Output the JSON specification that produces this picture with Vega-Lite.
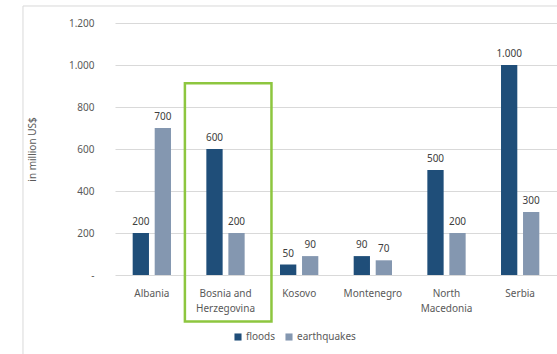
{
  "$schema": "https://vega.github.io/schema/vega-lite/v6.json",
  "width": 442,
  "height": 252,
  "autosize": "none",
  "padding": {"left": 115, "top": 23, "right": 0, "bottom": 79},
  "background": "white",
  "config": {
    "locale": {"number": {"decimal": ",", "thousands": ".", "grouping": [3], "currency": ["", " $"]}},
    "view": {"stroke": null},
    "font": "Noto Sans",
    "axis": {"labelFontSize": 10, "labelColor": "#595959", "titleColor": "#595959", "titleFontWeight": "normal", "titleFontSize": 10}
  },
  "data": {
    "values": [
      {"country": "Albania", "hazard": "floods", "value": 200},
      {"country": "Albania", "hazard": "earthquakes", "value": 700},
      {"country": "Bosnia and Herzegovina", "hazard": "floods", "value": 600},
      {"country": "Bosnia and Herzegovina", "hazard": "earthquakes", "value": 200},
      {"country": "Kosovo", "hazard": "floods", "value": 50},
      {"country": "Kosovo", "hazard": "earthquakes", "value": 90},
      {"country": "Montenegro", "hazard": "floods", "value": 90},
      {"country": "Montenegro", "hazard": "earthquakes", "value": 70},
      {"country": "North Macedonia", "hazard": "floods", "value": 500},
      {"country": "North Macedonia", "hazard": "earthquakes", "value": 200},
      {"country": "Serbia", "hazard": "floods", "value": 1000},
      {"country": "Serbia", "hazard": "earthquakes", "value": 300}
    ]
  },
  "layer": [
    {
      "mark": {"type": "bar"},
      "encoding": {
        "x": {
          "field": "country", "type": "nominal", "sort": null,
          "scale": {"domain": ["Albania", "Bosnia and Herzegovina", "Kosovo", "Montenegro", "North Macedonia", "Serbia"], "paddingInner": 0.48, "paddingOuter": 0.24},
          "axis": {
            "title": null, "tickSize": 0, "domain": false, "labelPadding": 13, "labelAngle": 0,
            "labelLineHeight": 15, "bandPosition": 0.5,
            "labelExpr": "datum.label == 'Bosnia and Herzegovina' ? ['Bosnia and', 'Herzegovina'] : datum.label == 'North Macedonia' ? ['North', 'Macedonia'] : datum.label"
          }
        },
        "xOffset": {"field": "hazard", "type": "nominal", "sort": ["floods", "earthquakes"], "scale": {"paddingInner": 0.26, "paddingOuter": 0}},
        "y": {
          "field": "value", "type": "quantitative",
          "scale": {"domain": [0, 1200], "nice": false},
          "axis": {
            "title": "in million US$", "values": [0, 200, 400, 600, 800, 1000, 1200],
            "tickSize": 0, "domain": false, "labelPadding": 21, "titlePadding": 31,
            "format": ",d", "labelExpr": "datum.value === 0 ? '-' : datum.label",
            "gridColor": "#d9d9d9"
          }
        },
        "color": {
          "field": "hazard", "type": "nominal",
          "scale": {"domain": ["floods", "earthquakes"], "range": ["#1F4E79", "#8497B0"]},
          "legend": {
            "title": null, "orient": "none", "direction": "horizontal", "legendX": 118, "legendY": 309,
            "symbolType": "square", "symbolSize": 50, "symbolStrokeWidth": 0,
            "labelFontSize": 10, "labelColor": "#595959", "columnPadding": 8, "labelOffset": 3
          }
        }
      }
    },
    {
      "mark": {"type": "text", "baseline": "bottom", "dy": -6, "fontSize": 10, "color": "#404040"},
      "encoding": {
        "x": {"field": "country", "type": "nominal", "sort": null},
        "xOffset": {"field": "hazard", "type": "nominal", "sort": ["floods", "earthquakes"]},
        "y": {"field": "value", "type": "quantitative"},
        "text": {"field": "value", "type": "quantitative", "format": ",d"}
      }
    },
    {
      "data": {"values": [{}]},
      "mark": {"type": "rect", "fill": null, "stroke": "#d9d9d9", "strokeWidth": 1, "clip": false},
      "encoding": {
        "x": {"datum": "Albania", "bandPosition": -2.864, "type": "nominal"},
        "x2": {"datum": "Serbia", "bandPosition": 3},
        "y": {"datum": 1281, "type": "quantitative"},
        "y2": {"datum": -500}
      }
    },
    {
      "data": {"values": [{}]},
      "mark": {"type": "rect", "fill": null, "stroke": "#8DC63F", "strokeWidth": 2.5, "clip": false},
      "encoding": {
        "x": {"datum": "Bosnia and Herzegovina", "bandPosition": -0.56, "type": "nominal"},
        "x2": {"datum": "Bosnia and Herzegovina", "bandPosition": 1.7},
        "y": {"datum": 913, "type": "quantitative"},
        "y2": {"datum": -222}
      }
    }
  ]
}
